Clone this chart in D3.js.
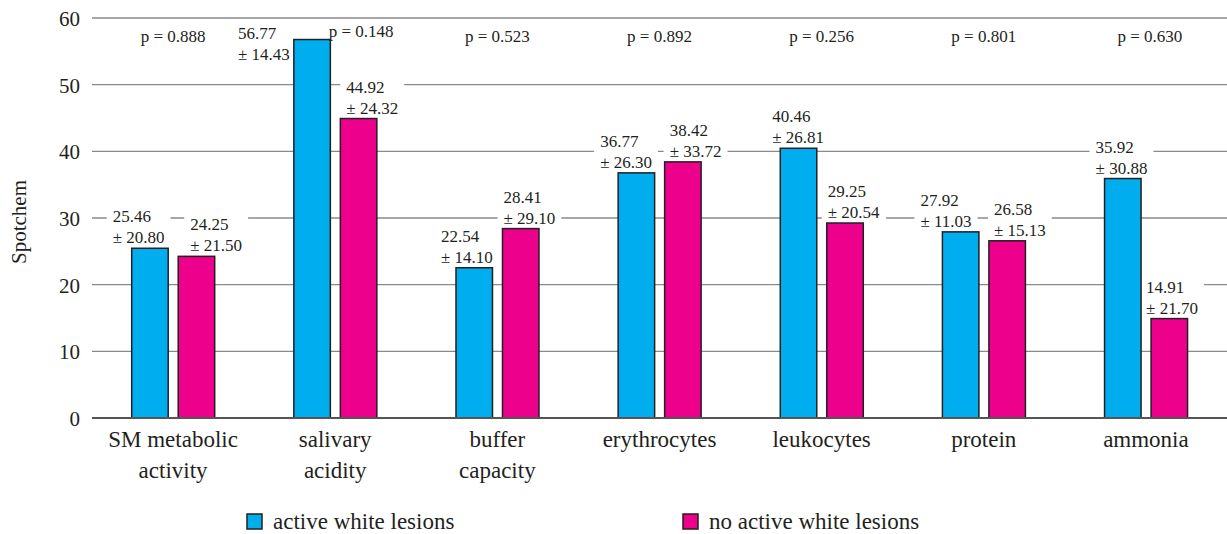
<!DOCTYPE html>
<html><head><meta charset="utf-8">
<script src="https://cdn.jsdelivr.net/npm/d3@7"></script>
<style>
body{margin:0;background:#fff}
text{font-family:"Liberation Serif","DejaVu Serif",serif;fill:#231f20}
</style>
</head><body>
<svg id="c" width="1227" height="534"></svg>
<script>
// ---- data ----
const categories = [["SM metabolic","activity"],["salivary","acidity"],["buffer","capacity"],["erythrocytes"],["leukocytes"],["protein"],["ammonia"]];
const seriesNames = ["active white lesions","no active white lesions"];
const activeMean = [25.46,56.77,22.54,36.77,40.46,27.92,35.92];
const activeSD   = ["20.80","14.43","14.10","26.30","26.81","11.03","30.88"];
const inactiveMean = [24.25,44.92,28.41,38.42,29.25,26.58,14.91];
const inactiveSD   = ["21.50","24.32","29.10","33.72","20.54","15.13","21.70"];
const pValues = ["0.888","0.148","0.523","0.892","0.256","0.801","0.630"];
const yTicks = [0,10,20,30,40,50,60];
const seriesColors = ["#00aeef","#ec008c"];

// ---- layout tweaks (label nudges, px) ----
const activeLabelDx = [-19,null,-15,-18,-8,-22,-9];   // null = placed left of bar
const inactiveLabelDx = [12,6,1,5,1,5,-5];
const pLabelDx = [0,26,0,0,0,0,4];
const pLabelDy = [0,-5,0,0,0,0,0];

const svg = d3.select("#c");
const mLeft = 92, mRight = 1227, mTop = 18, mBottom = 418;
const idx = d3.range(categories.length);
const x0 = d3.scaleBand().domain(idx).range([mLeft,mRight]).paddingInner(0).paddingOuter(0);
const x1 = d3.scaleBand().domain([0,1]).range([39.7,122.7]).paddingInner(0.215);
const y = d3.scaleLinear().domain([0,60]).range([mBottom,mTop]);

// gridlines
svg.append("g").selectAll("line").data(yTicks.filter(t=>t>0)).join("line")
  .attr("x1",mLeft).attr("x2",mRight).attr("y1",d=>y(d)).attr("y2",d=>y(d))
  .attr("stroke","#8a8a8a").attr("stroke-width",1.4);

// y tick labels
const yAxis = d3.axisLeft(y).tickValues(yTicks).tickSize(0).tickPadding(12);
const ya = svg.append("g").attr("transform",`translate(${mLeft},0)`).call(yAxis);
ya.select(".domain").remove();
ya.selectAll("text").attr("font-size",21).attr("font-family","Liberation Serif").attr("fill","#231f20").attr("dy","0.36em");

// axis title
svg.append("text").attr("transform","translate(26,222) rotate(-90)")
  .attr("text-anchor","middle").attr("font-size",21).text("Spotchem");

// bars data
const bars = [];
idx.forEach(i=>{
  bars.push({i,s:0,v:activeMean[i],sd:activeSD[i],dx:activeLabelDx[i]});
  bars.push({i,s:1,v:inactiveMean[i],sd:inactiveSD[i],dx:inactiveLabelDx[i]});
});

const labG = svg.append("g");
const barG = svg.append("g");
const txtG = svg.append("g");
bars.forEach(b=>{
  const bx = x0(b.i)+x1(b.s);
  const by = y(b.v);
  const g = txtG.append("g");
  let t;
  if(b.dx===null){
    t = g.append("text").attr("font-size",17);
    const l1 = t.append("tspan").attr("y",by-1).text(b.v.toFixed(2));
    const l2 = t.append("tspan").attr("y",by+20).text("± "+b.sd);
    const w2 = l2.node().getComputedTextLength();
    l1.attr("x",bx-4-w2);
    l2.attr("x",bx-4-w2);
  } else {
    t = g.append("text").attr("font-size",17);
    t.append("tspan").attr("x",bx+b.dx).attr("y",by-26).text(b.v.toFixed(2));
    t.append("tspan").attr("x",bx+b.dx).attr("y",by-5).text("± "+b.sd);
  }
  const bb = t.node().getBBox();
  labG.append("rect").attr("x",bb.x-6).attr("y",bb.y-1).attr("width",bb.width+12).attr("height",bb.height+2).attr("fill","#fff");
});

barG.selectAll("rect").data(bars).join("rect")
  .attr("x",d=>x0(d.i)+x1(d.s)).attr("width",x1.bandwidth())
  .attr("y",d=>y(d.v)).attr("height",d=>y(0)-y(d.v))
  .attr("fill",d=>seriesColors[d.s]).attr("stroke","#231f20").attr("stroke-width",1.5);

// baseline
svg.append("line").attr("x1",mLeft).attr("x2",mRight).attr("y1",y(0)).attr("y2",y(0))
  .attr("stroke","#555").attr("stroke-width",2);

// p values
txtG.selectAll("text.p").data(idx).join("text").attr("class","p")
  .attr("x",i=>x0(i)+x0.bandwidth()/2+pLabelDx[i]).attr("y",i=>42+pLabelDy[i])
  .attr("text-anchor","middle").attr("font-size",17).text(i=>"p = "+pValues[i]);

// category labels
const cg = svg.append("g");
idx.forEach(i=>{
  const t = cg.append("text").attr("text-anchor","middle").attr("font-size",23);
  categories[i].forEach((ln,k)=>{
    t.append("tspan").attr("x",x0(i)+x0.bandwidth()/2).attr("y",447+k*31).text(ln);
  });
});

// legend
const legX = [247,683];
seriesNames.forEach((n,s)=>{
  svg.append("rect").attr("x",legX[s]).attr("y",514).attr("width",15).attr("height",15)
    .attr("fill",seriesColors[s]).attr("stroke","#231f20").attr("stroke-width",1.5);
  svg.append("text").attr("x",legX[s]+26).attr("y",529).attr("font-size",23).text(n);
});
</script>
</body></html>
